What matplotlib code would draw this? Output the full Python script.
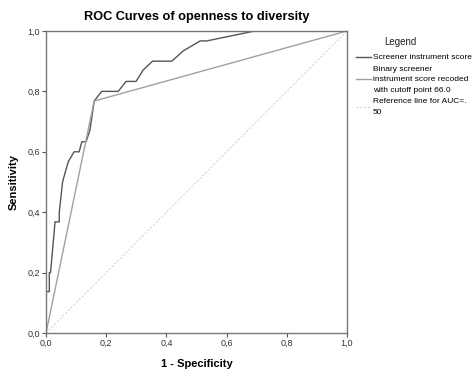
import matplotlib.pyplot as plt
import numpy as np

plt.rcParams['font.family'] = ['Liberation Sans', 'DejaVu Sans']

# ROC curve (1 - specificity, sensitivity)
fpr = [0.0, 0.0, 0.011, 0.011, 0.015, 0.030, 0.044, 0.044, 0.055, 0.063, 0.074,
       0.093, 0.110, 0.119, 0.133, 0.146, 0.160, 0.185, 0.240, 0.266, 0.299,
       0.323, 0.354, 0.418, 0.456, 0.512, 0.534, 0.694, 1.0]
tpr = [0.0, 0.137, 0.137, 0.200, 0.200, 0.368, 0.368, 0.400, 0.500, 0.529, 0.567,
       0.600, 0.600, 0.633, 0.633, 0.672, 0.768, 0.800, 0.800, 0.833, 0.833,
       0.871, 0.900, 0.900, 0.934, 0.967, 0.967, 1.0, 1.0]

# binary screener (cutoff 66.0)
bin_fpr = [0.0, 0.160, 1.0]
bin_tpr = [0.0, 0.768, 1.0]

ref = [0.0, 1.0]

ticks = [0.0, 0.2, 0.4, 0.6, 0.8, 1.0]
tick_labels = ['0,0', '0,2', '0,4', '0,6', '0,8', '1,0']

fig = plt.figure(figsize=(4.73, 3.73), dpi=100)
ax = fig.add_axes([0.0973, 0.1072, 0.6363, 0.8098])

ax.plot(fpr, tpr, color='#555555', lw=1.0, label='Screener instrument score')
ax.plot(bin_fpr, bin_tpr, color='#a0a0a0', lw=1.0,
        label='Binary screener\ninstrument score recoded\nwith cutoff point 66.0')
ax.plot(ref, ref, color='#d4d4d4', lw=0.8, ls=(0, (2, 1.5)),
        label='Reference line for AUC=.\n50')

ax.set_xlim(0, 1)
ax.set_ylim(0, 1)
ax.set_xticks(ticks)
ax.set_xticklabels(tick_labels)
ax.set_yticks(ticks)
ax.set_yticklabels(tick_labels)
ax.tick_params(labelsize=6.5, length=3, width=0.8, color='#555555', pad=1.5,
               labelcolor='#333333')
for s in ax.spines.values():
    s.set_color('#777777')
    s.set_linewidth(1.0)

ax.set_xlabel('1 - Specificity', fontsize=8, fontweight='bold', labelpad=7.5)
ax.set_ylabel('Sensitivity', fontsize=8, fontweight='bold', labelpad=6)
ax.set_title('ROC Curves of openness to diversity', fontsize=9.2, fontweight='bold', pad=8)

leg = ax.legend(loc='upper left', bbox_to_anchor=(1.03, 0.925), frameon=False,
                fontsize=6, handlelength=1.8, handletextpad=0.25,
                labelspacing=0.5, borderaxespad=0, borderpad=0)
for t in leg.get_texts():
    t.set_linespacing(1.75)
fig.text(400 / 473, 1 - 42 / 373, 'Legend', fontsize=7, ha='center', va='center',
         color='#222222')

plt.savefig('out.png', dpi=100)
